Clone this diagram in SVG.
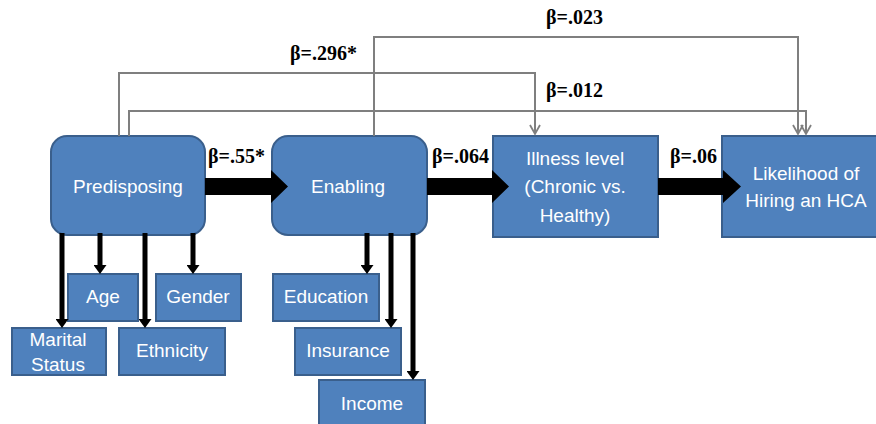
<svg xmlns="http://www.w3.org/2000/svg" width="876" height="424" viewBox="0 0 876 424">
  <style>
    .box { fill: #4F81BD; stroke: #3A5F8C; stroke-width: 2; }
    .lbl { fill: #FFFFFF; font-family: "Liberation Sans", Arial, sans-serif; font-size: 19px; text-anchor: middle; }
    .beta { fill: #000000; font-family: "Liberation Serif", "Times New Roman", serif; font-size: 20px; font-weight: bold; }
    .path { fill: none; stroke: #7F7F7F; stroke-width: 2; }
    .stem { fill: none; stroke: #000000; stroke-width: 5; }
    .big { fill: #000000; }
  </style>
  <defs>
    <marker id="openHead" markerUnits="userSpaceOnUse" markerWidth="12" markerHeight="12" viewBox="0 0 12 12" refX="10" refY="6" orient="auto">
      <path d="M1,1 L10,6 L1,11" fill="none" stroke="#7F7F7F" stroke-width="1.8"/>
    </marker>
    <marker id="solidHead" markerUnits="userSpaceOnUse" markerWidth="9" markerHeight="13" viewBox="0 0 9 13" refX="0" refY="6.5" orient="auto">
      <path d="M0,0 L9,6.5 L0,13 Z" fill="#000000"/>
    </marker>
  </defs>

  <!-- nodes -->
  <g id="predisposing">
    <rect class="box" x="51" y="136" width="154" height="99" rx="16"/>
    <text class="lbl" x="128" y="193">Predisposing</text>
  </g>
  <g id="enabling">
    <rect class="box" x="272" y="136" width="155" height="99" rx="16"/>
    <text class="lbl" x="348" y="193">Enabling</text>
  </g>
  <g id="illness">
    <rect class="box" x="493" y="136" width="165" height="101"/>
    <text class="lbl" x="575" y="165">Illness level</text>
    <text class="lbl" x="575" y="193">(Chronic vs.</text>
    <text class="lbl" x="575" y="222">Healthy)</text>
  </g>
  <g id="likelihood">
    <rect class="box" x="722" y="136" width="170" height="101"/>
    <text class="lbl" x="806" y="180">Likelihood of</text>
    <text class="lbl" x="806" y="207">Hiring an HCA</text>
  </g>
  <g id="age">
    <rect class="box" x="68" y="274" width="70" height="47"/>
    <text class="lbl" x="103" y="303" font-size="16">Age</text>
  </g>
  <g id="gender">
    <rect class="box" x="156" y="274" width="85" height="47"/>
    <text class="lbl" x="198" y="303" font-size="16">Gender</text>
  </g>
  <g id="marital">
    <rect class="box" x="12" y="328" width="94" height="47"/>
    <text class="lbl" x="58" y="346" font-size="16">Marital</text>
    <text class="lbl" x="58" y="371" font-size="16">Status</text>
  </g>
  <g id="ethnicity">
    <rect class="box" x="119" y="328" width="106" height="47"/>
    <text class="lbl" x="172" y="357" font-size="16">Ethnicity</text>
  </g>
  <g id="education">
    <rect class="box" x="273" y="274" width="106" height="47"/>
    <text class="lbl" x="326" y="303" font-size="16">Education</text>
  </g>
  <g id="insurance">
    <rect class="box" x="295" y="328" width="106" height="47"/>
    <text class="lbl" x="348" y="357" font-size="16">Insurance</text>
  </g>
  <g id="income">
    <rect class="box" x="319" y="380" width="106" height="50"/>
    <text class="lbl" x="372" y="410" font-size="16">Income</text>
  </g>

  <!-- connectors -->
  <g id="connectors">
    <!-- main causal chain -->
    <polygon class="big" points="205,178 271,178 271,170 288,186.5 271,203 271,195 205,195"/>
    <polygon class="big" points="427,178 492,178 492,170 509,186.5 492,203 492,195 427,195"/>
    <polygon class="big" points="658,178 723,178 723,170 741,186.5 723,203 723,195 658,195"/>

    <!-- direct paths -->
    <polyline class="path" points="119,136 119,73 535,73 535,134" marker-end="url(#openHead)"/>
    <polyline class="path" points="129,136 129,111 806,111 806,134" marker-end="url(#openHead)"/>
    <polyline class="path" points="374,136 374,37 798,37 798,134" marker-end="url(#openHead)"/>

    <!-- predisposing factors -->
    <line class="stem" x1="62" y1="233" x2="62" y2="319" marker-end="url(#solidHead)"/>
    <line class="stem" x1="100" y1="233" x2="100" y2="265" marker-end="url(#solidHead)"/>
    <line class="stem" x1="145" y1="233" x2="145" y2="319" marker-end="url(#solidHead)"/>
    <line class="stem" x1="193" y1="233" x2="193" y2="265" marker-end="url(#solidHead)"/>

    <!-- enabling factors -->
    <line class="stem" x1="367" y1="233" x2="367" y2="265" marker-end="url(#solidHead)"/>
    <line class="stem" x1="391" y1="233" x2="391" y2="319" marker-end="url(#solidHead)"/>
    <line class="stem" x1="413" y1="233" x2="413" y2="371" marker-end="url(#solidHead)"/>
  </g>

  <!-- coefficients -->
  <g id="coefficients">
    <text class="beta" x="546" y="24">β=.023</text>
    <text class="beta" x="290" y="60">β=.296*</text>
    <text class="beta" x="546" y="97">β=.012</text>
    <text class="beta" x="208" y="163">β=.55*</text>
    <text class="beta" x="432" y="163">β=.064</text>
    <text class="beta" x="670" y="163">β=.06</text>
  </g>
</svg>
